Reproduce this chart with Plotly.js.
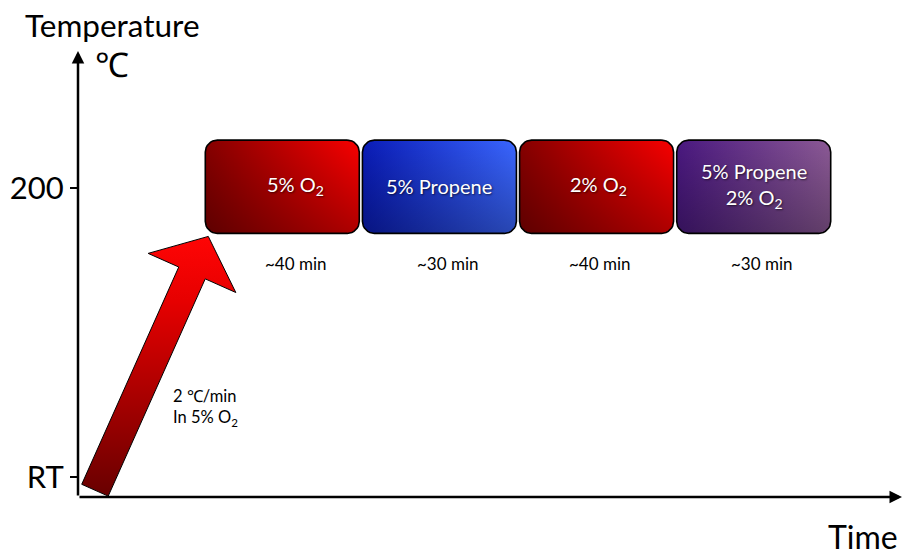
<!DOCTYPE html>
<html>
<head>
<meta charset="utf-8">
<script src="https://cdn.plot.ly/plotly-3.0.1.min.js"></script>
<style>html,body{margin:0;padding:0;background:#fff;}#chart{width:903px;height:555px;}</style>
</head>
<body>
<div id="chart"></div>
<script>
// ---- data ----
const phases = ['5% O<sub>2</sub>', '5% Propene', '2% O<sub>2</sub>', '5% Propene<br>2% O<sub>2</sub>'];
const durations = ['~40 min', '~30 min', '~40 min', '~30 min'];
const tempTickVals = [25, 200];
const tempTickText = ['RT', '200'];
const holdTemp = 200;
const rampStart = [0.108, 17];
const rampLabel = ['2 ℃/min', 'In 5% O<sub>2</sub>'];
const phaseColors = [
  ['#850000', '#f80000'],
  ['#0a1cb8', '#3a66ff'],
  ['#850000', '#f80000'],
  ['#4a1880', '#8c5a96']
];

// ---- layout constants ----
const W = 903, H = 555;
const M = {l: 78, r: 0, t: 50, b: 58};
const PW = W - M.l - M.r, PH = H - M.t - M.b;
const XR = [0, 5.25];
const YR = [12.89, 283.57];
const FONT = 'Lato, "Open Sans", sans-serif';

const xp = x => M.l + (x - XR[0]) / (XR[1] - XR[0]) * PW;
const yp = y => M.t + (YR[1] - y) / (YR[1] - YR[0]) * PH;
const xd = p => XR[0] + (p - M.l) / PW * (XR[1] - XR[0]);
const yd = p => YR[1] - (p - M.t) / PH * (YR[1] - YR[0]);

const slotStart = 0.81, slotW = 0.98;
const boxLow = holdTemp - 27.5, boxHigh = holdTemp + 29;

function roundRect(x0, x1, y0, y1, r) {
  const L = xp(x0), R = xp(x1), T = yp(y1), B = yp(y0);
  const pts = [];
  const arc = (cx, cy, a0, a1) => {
    for (let i = 0; i <= 8; i++) {
      const a = (a0 + (a1 - a0) * i / 8) * Math.PI / 180;
      pts.push([cx + r * Math.cos(a), cy + r * Math.sin(a)]);
    }
  };
  arc(R - r, T + r, -90, 0);
  arc(R - r, B - r, 0, 90);
  arc(L + r, B - r, 90, 180);
  arc(L + r, T + r, 180, 270);
  pts.push(pts[0]);
  return {x: pts.map(p => xd(p[0])), y: pts.map(p => yd(p[1]))};
}

const traces = [];

// ramp arrow
(function () {
  const S = [xp(rampStart[0]), yp(rampStart[1])];
  const Tp = [xp(slotStart) + 3, yp(boxLow) + 3];
  const dx = Tp[0] - S[0], dy = Tp[1] - S[1];
  const len = Math.hypot(dx, dy);
  const u = [dx / len, dy / len];
  const n = [-u[1], u[0]];
  const h = 14.5, Hh = 48, L = 40;
  const J = [Tp[0] - L * u[0], Tp[1] - L * u[1]];
  const pts = [
    [S[0] - h * n[0], S[1] - h * n[1]],
    [J[0] - h * n[0], J[1] - h * n[1]],
    [J[0] - Hh * n[0], J[1] - Hh * n[1]],
    Tp,
    [J[0] + Hh * n[0], J[1] + Hh * n[1]],
    [J[0] + h * n[0], J[1] + h * n[1]],
    [S[0] + h * n[0], S[1] + h * n[1]]
  ];
  pts.push(pts[0]);
  traces.push({
    type: 'scatter', mode: 'lines', fill: 'toself',
    x: pts.map(p => xd(p[0])), y: pts.map(p => yd(p[1])),
    line: {color: '#000', width: 1},
    fillgradient: {type: 'vertical', colorscale: [[0, '#680000'], [0.75, '#e60000'], [1, '#ff0505']]},
    hoverinfo: 'skip', showlegend: false
  });
})();

// phase boxes
phases.forEach((p, i) => {
  const x0 = slotStart + i, x1 = x0 + slotW;
  const rr = roundRect(x0, x1, boxLow, boxHigh, 12);
  traces.push({
    type: 'scatter', mode: 'lines', fill: 'toself', x: rr.x, y: rr.y,
    line: {width: 0},
    fillgradient: {type: 'horizontal', colorscale: [[0, phaseColors[i][0]], [1, phaseColors[i][1]]]},
    hoverinfo: 'skip', showlegend: false
  });
  traces.push({
    type: 'scatter', mode: 'lines', fill: 'toself', x: rr.x, y: rr.y,
    line: {width: 0},
    fillgradient: {type: 'vertical', colorscale: [[0, 'rgba(0,0,0,0.3)'], [1, 'rgba(0,0,0,0)']]},
    hoverinfo: 'skip', showlegend: false
  });
  traces.push({
    type: 'scatter', mode: 'lines', x: rr.x, y: rr.y,
    line: {color: '#000', width: 1.6},
    hoverinfo: 'skip', showlegend: false
  });
});

const annotations = [];
const labelShift = [13, 0, 2, 0];
const durShift = [13, 8, 3, 8];
phases.forEach((p, i) => {
  const xc = slotStart + i + slotW / 2;
  annotations.push({
    x: xc, y: (boxLow + boxHigh) / 2, xref: 'x', yref: 'y', text: p, showarrow: false,
    xshift: labelShift[i], yshift: 1,
    font: {family: FONT, size: 20, color: '#fff', shadow: '1px 1px 2px rgba(0,0,0,0.6)'}
  });
  annotations.push({
    x: xc, y: 154, xref: 'x', yref: 'y', text: durations[i], showarrow: false,
    xshift: durShift[i],
    font: {family: FONT, size: 17, color: '#000'}
  });
});
annotations.push({
  x: xd(171), y: yd(407), xref: 'x', yref: 'y', text: rampLabel.join('<br>'), showarrow: false,
  xanchor: 'left', align: 'left',
  font: {family: FONT, size: 16.5, color: '#000'}
});
// axis arrows
annotations.push({
  x: 0, y: yd(51), ax: 0, ay: YR[0], xref: 'x', yref: 'y', axref: 'x', ayref: 'y',
  text: '', showarrow: true, arrowhead: 2, arrowsize: 1, arrowwidth: 2.5, arrowcolor: '#000'
});
annotations.push({
  x: xd(902), y: YR[0], ax: 0, ay: YR[0], xref: 'x', yref: 'y', axref: 'x', ayref: 'y',
  text: '', showarrow: true, arrowhead: 2, arrowsize: 1, arrowwidth: 2.5, arrowcolor: '#000'
});
// titles
annotations.push({
  x: (23 - M.l) / PW, y: (H - M.b - 25) / PH, xref: 'paper', yref: 'paper', xanchor: 'left', yanchor: 'middle',
  text: 'Temperature', showarrow: false, font: {family: FONT, size: 31.5, color: '#000'}
});
annotations.push({
  x: (112 - M.l) / PW, y: (H - M.b - 63) / PH, xref: 'paper', yref: 'paper', xanchor: 'center', yanchor: 'middle',
  text: '℃', showarrow: false, font: {family: FONT, size: 34, color: '#000'}
});
annotations.push({
  x: (900 - M.l) / PW, y: (H - M.b - 536) / PH, xref: 'paper', yref: 'paper', xanchor: 'right', yanchor: 'middle',
  text: 'Time', showarrow: false, font: {family: FONT, size: 32, color: '#000'}
});

const layout = {
  width: W, height: H,
  margin: M,
  paper_bgcolor: '#fff', plot_bgcolor: '#fff',
  xaxis: {range: XR, showgrid: false, zeroline: false, showline: false, showticklabels: false, ticks: '', fixedrange: true},
  yaxis: {
    range: YR, showgrid: false, zeroline: false, showline: false,
    tickmode: 'array', tickvals: tempTickVals, ticktext: tempTickText,
    ticks: 'outside', ticklen: 7, tickwidth: 2.5, tickcolor: '#000',
    tickfont: {family: FONT, size: 31, color: '#000'}, fixedrange: true
  },
  annotations: annotations
};

Plotly.newPlot('chart', traces, layout, {displayModeBar: false, staticPlot: true});
</script>
</body>
</html>
